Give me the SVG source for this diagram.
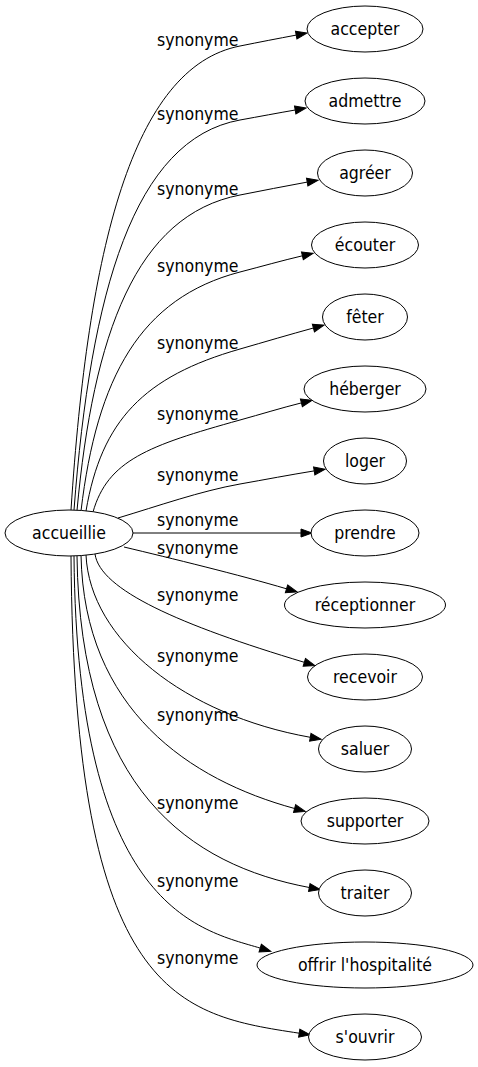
<svg xmlns="http://www.w3.org/2000/svg" width="478" height="1067" viewBox="0 0 478 1067">
<defs>
<style>
text{font-family:"DejaVu Sans Condensed","DejaVu Sans",sans-serif;font-stretch:condensed;font-size:17.5px;fill:#000}
.n ellipse{fill:#fff;stroke:#000;stroke-width:1}
.n text{text-anchor:middle}
#edges path{fill:none;stroke:#000;stroke-width:1;marker-end:url(#ah)}
</style>
<marker id="ah" markerWidth="12" markerHeight="8" refX="0" refY="4" orient="auto" markerUnits="userSpaceOnUse" overflow="visible"><path d="M0,0 L11,4 L0,8 z" fill="#000" stroke="#000" stroke-width="1"/></marker>
</defs>
<rect width="478" height="1067" fill="#fff"/>
<g id="edges">
<path d="M71,510 C88,250 132,67 240,46 C260,42 278,38.5 296.2,35.1"/>
<path d="M74,510 C90.6,292 133.7,139.3 240,120 C260,116.4 278,113 295.2,110"/>
<path d="M77,510.5 C93.3,333.8 136,215 240,195 C262,190.8 285,186 307.2,182.1"/>
<path d="M81,511 C96.9,377.2 140.3,298 240,272 C262,266.3 282,260.6 302.4,255.8"/>
<path d="M86,511 C101.4,420.3 143.9,376.5 240,349 C265,341.8 290,334.4 313.4,328"/>
<path d="M93,512 C107.7,460.5 147.8,445.6 240,420 C261,414.2 281,408 301.4,402.9"/>
<path d="M118,518 C158,506 200.6,491 240,484 C265,479.6 290,474.8 314.2,470.9"/>
<path d="M133,533 L301,533"/>
<path d="M124,547 C170,558 240,575 286.5,588.8"/>
<path d="M95,554 C100,590 180,625 304.3,662.3"/>
<path d="M86,555 C90,640 185,715 310.3,737.3"/>
<path d="M81,555 C84,710 190,780 294.6,808.5"/>
<path d="M77,556 C80,790 190,865 309.3,887.5"/>
<path d="M74,556 C77,910 200,930 260.2,948.1"/>
<path d="M71,556 C74,1000 180,1015 299.2,1033.2"/>
</g>
<g id="labels">
<text x="157" y="46">synonyme</text>
<text x="157" y="120">synonyme</text>
<text x="157" y="195">synonyme</text>
<text x="157" y="272">synonyme</text>
<text x="157" y="349">synonyme</text>
<text x="157" y="420">synonyme</text>
<text x="157" y="481">synonyme</text>
<text x="157" y="526">synonyme</text>
<text x="157" y="554">synonyme</text>
<text x="157" y="601">synonyme</text>
<text x="157" y="662">synonyme</text>
<text x="157" y="721">synonyme</text>
<text x="157" y="809">synonyme</text>
<text x="157" y="887">synonyme</text>
<text x="157" y="964">synonyme</text>
</g>
<g id="accueillie" class="n"><ellipse cx="69" cy="533" rx="64" ry="23"/><text x="69" y="539">accueillie</text></g>
<g id="accepter" class="n"><ellipse cx="365" cy="29" rx="58" ry="23"/><text x="365" y="35">accepter</text></g>
<g id="admettre" class="n"><ellipse cx="365" cy="101" rx="60" ry="23"/><text x="365" y="107">admettre</text></g>
<g id="agreer" class="n"><ellipse cx="365" cy="173" rx="47.5" ry="23"/><text x="365" y="179">agréer</text></g>
<g id="ecouter" class="n"><ellipse cx="365" cy="245" rx="53.5" ry="23"/><text x="365" y="251">écouter</text></g>
<g id="feter" class="n"><ellipse cx="365" cy="317" rx="42.5" ry="23"/><text x="365" y="323">fêter</text></g>
<g id="heberger" class="n"><ellipse cx="365" cy="389" rx="61" ry="23"/><text x="365" y="395">héberger</text></g>
<g id="loger" class="n"><ellipse cx="365" cy="461" rx="41.5" ry="23"/><text x="365" y="467">loger</text></g>
<g id="prendre" class="n"><ellipse cx="365" cy="533" rx="54" ry="23"/><text x="365" y="539">prendre</text></g>
<g id="receptionner" class="n"><ellipse cx="365" cy="605" rx="80.5" ry="23"/><text x="365" y="611">réceptionner</text></g>
<g id="recevoir" class="n"><ellipse cx="365" cy="677" rx="57.5" ry="23"/><text x="365" y="683">recevoir</text></g>
<g id="saluer" class="n"><ellipse cx="365" cy="749" rx="46.5" ry="23"/><text x="365" y="755">saluer</text></g>
<g id="supporter" class="n"><ellipse cx="365" cy="821" rx="64" ry="23"/><text x="365" y="827">supporter</text></g>
<g id="traiter" class="n"><ellipse cx="365" cy="893" rx="46.5" ry="23"/><text x="365" y="899">traiter</text></g>
<g id="offrir" class="n"><ellipse cx="365" cy="965" rx="108" ry="23"/><text x="365" y="971">offrir l'hospitalité</text></g>
<g id="souvrir" class="n"><ellipse cx="365" cy="1037" rx="56.5" ry="23"/><text x="365" y="1043">s'ouvrir</text></g>
</svg>
